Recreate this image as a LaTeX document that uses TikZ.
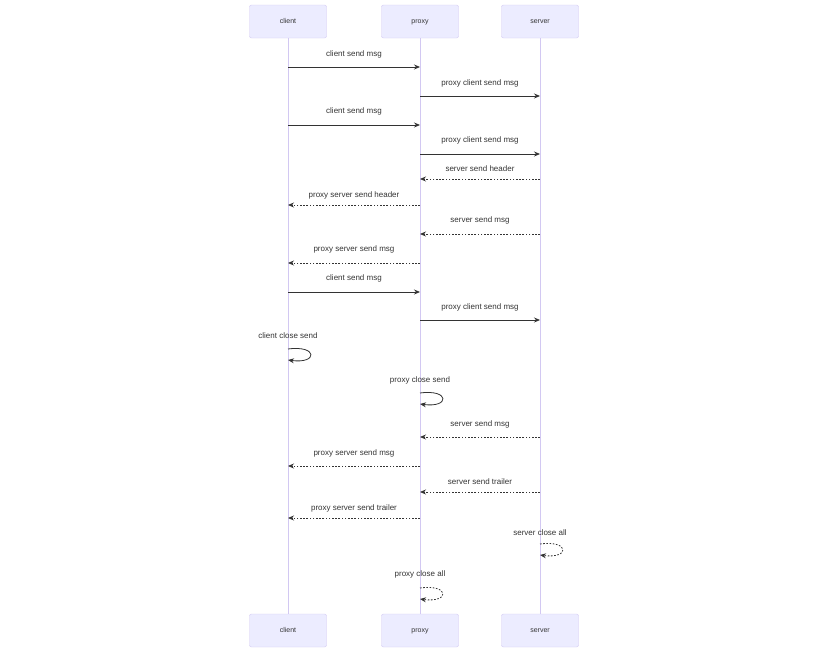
\documentclass[tikz,border=0pt]{standalone}
\usepackage{fontspec}
\setmainfont{Liberation Sans}
\usetikzlibrary{arrows.meta, calc}
\definecolor{actorfill}{HTML}{ECECFF}
\definecolor{actorline}{HTML}{D2C8F2}
\definecolor{msgcolor}{HTML}{333333}
\tikzset{
	actor/.style={draw=actorline, fill=actorfill, rounded corners=2pt,
		minimum width=77pt, minimum height=33pt, inner sep=0pt,
		text height=5pt, text depth=1.5pt,
		font=\fontsize{7}{8}\selectfont, text=msgcolor}
}
\tikzset{
	lifeline/.style={draw=actorline, line width=0.9pt},
	msg/.style={draw=msgcolor, line width=0.8pt, -{Stealth[length=6pt,width=5pt]}},
	reply/.style={msg, dash pattern=on 1.6pt off 1.6pt},
	msglabel/.style={font=\fontsize{8}{9}\selectfont, text=msgcolor,
		text height=6pt, text depth=1.5pt}
}
% message between two lifelines: [style]{from}{to}{label y}{arrow y}{text}
\newcommand{\sendmsg}[6][msg]{
	\draw[#1] (#2.south |- 0,#5) -- (#3.south |- 0,#5);
	\node[msglabel] at ($(#2.south |- 0,#4)!0.5!(#3.south |- 0,#4)$) {#6};
}
% message from a lifeline to itself: [style]{actor}{label y}{arrow y}{text}
\newcommand{\selfmsg}[5][msg]{
	\path (#2.south |- 0,#4) coordinate (loopa) ++(0,11) coordinate (loopb);
	\draw[#1] (loopa) .. controls +(30,-4) and +(30,4) .. (loopb);
	\node[msglabel] at (#2.south |- 0,#3) {#5};
}

\begin{document}
\begin{tikzpicture}[x=1pt, y=-1pt]
	\useasboundingbox (0,0) rectangle (828,653);

	% actors, top and bottom
	\node[actor] (client) at (288,21.5) {client};
	\node[actor] (proxy) at (420,21.5) {proxy};
	\node[actor] (server) at (540,21.5) {server};
	\node[actor] (clientb) at (288,630.5) {client};
	\node[actor] (proxyb) at (420,630.5) {proxy};
	\node[actor] (serverb) at (540,630.5) {server};

	% lifelines
	\draw[lifeline] (client) -- (clientb);
	\draw[lifeline] (proxy) -- (proxyb);
	\draw[lifeline] (server) -- (serverb);

	% requests
	\sendmsg{client}{proxy}{54.5}{67}{client send msg}
	\sendmsg{proxy}{server}{83.5}{96}{proxy client send msg}
	\sendmsg{client}{proxy}{111.5}{125}{client send msg}
	\sendmsg{proxy}{server}{140.5}{154}{proxy client send msg}

	% replies
	\sendmsg[reply]{server}{proxy}{169.5}{179}{server send header}
	\sendmsg[reply]{proxy}{client}{195.5}{205}{proxy server send header}
	\sendmsg[reply]{server}{proxy}{220.5}{234}{server send msg}
	\sendmsg[reply]{proxy}{client}{249.5}{263}{proxy server send msg}

	\sendmsg{client}{proxy}{278.5}{292}{client send msg}
	\sendmsg{proxy}{server}{307.5}{320}{proxy client send msg}

	% half close
	\selfmsg{client}{336.5}{349}{client close send}
	\selfmsg{proxy}{380.5}{393}{proxy close send}

	\sendmsg[reply]{server}{proxy}{424.5}{437}{server send msg}
	\sendmsg[reply]{proxy}{client}{453.5}{466}{proxy server send msg}
	\sendmsg[reply]{server}{proxy}{482.5}{492}{server send trailer}
	\sendmsg[reply]{proxy}{client}{508.5}{518}{proxy server send trailer}

	% full close
	\selfmsg[reply]{server}{533.5}{544}{server close all}
	\selfmsg[reply]{proxy}{574.5}{588}{proxy close all}
\end{tikzpicture}
\end{document}
